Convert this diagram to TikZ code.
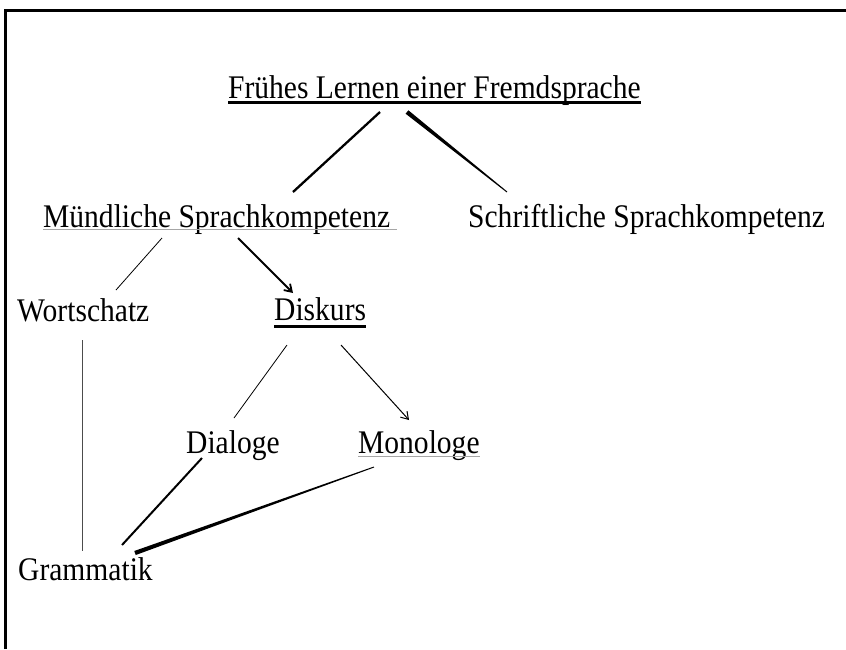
\documentclass[tikz,border=0pt]{standalone}
\usepackage{fontspec}
\setmainfont{Liberation Serif}[FakeStretch=0.895]
\usetikzlibrary{arrows.meta}
\begin{document}
\begin{tikzpicture}[x=1pt,y=-1pt,
  lbl/.style={inner sep=0pt, anchor=base west, font=\fontsize{33}{36}\selectfont},
  thinln/.style={line width=0.8pt},
  midln/.style={line width=2pt},
  ulthick/.style={line width=3pt},
  ulthin/.style={line width=1pt, gray!70},
  arr/.style={-{Straight Barb[length=7pt,width=9pt]}}]
\useasboundingbox (0,0) rectangle (846,649);
% frame
\draw[line width=3pt] (5,649) -- (5,10) -- (846,10);
% labels
\node[lbl] (F) at (228,98) {Frühes Lernen einer Fremdsprache};
\node[lbl] (M) at (43,227) {Mündliche Sprachkompetenz};
\node[lbl] (S) at (468,227) {Schriftliche Sprachkompetenz};
\node[lbl] (W) at (17,321) {Wortschatz};
\node[lbl] (D) at (274,320) {Diskurs};
\node[lbl] (Dl) at (186,453) {Dialoge};
\node[lbl] (Mo) at (358,453) {Monologe};
\node[lbl] (G) at (18,580) {Grammatik};
% underlines
\draw[ulthick] ([yshift=-4.5pt]F.base west) -- ([yshift=-4.5pt]F.base east);
\draw[ulthin] ([yshift=-2.5pt]M.base west) -- ++(354,0);
\draw[ulthick] ([yshift=-6pt]D.base west) -- ([yshift=-6pt]D.base east);
\draw[ulthin] ([yshift=-3pt]Mo.base west) -- ([yshift=-3pt]Mo.base east);
% connector end points
\coordinate (fm1) at (380,112); \coordinate (fm2) at (293,192);
\coordinate (fs1) at (407,112); \coordinate (fs2) at (507,192);
\coordinate (mw1) at (162,238); \coordinate (mw2) at (116,290);
\coordinate (md1) at (238,238); \coordinate (md2) at (293,293);
\coordinate (dd1) at (287,345); \coordinate (dd2) at (234,418);
\coordinate (dm1) at (341,345); \coordinate (dm2) at (409,420);
\coordinate (wg1) at (82,340);  \coordinate (wg2) at (82,551);
\coordinate (lg1) at (202,458); \coordinate (lg2) at (122,545);
\coordinate (og1) at (374,467); \coordinate (og2) at (135,553);
% connectors
\draw[line width=2.3pt] (fm1) -- (fm2);
\fill ([shift={(-1.4,1.7)}]fs1) -- ([shift={(1.4,-1.7)}]fs1) -- ([shift={(0.3,-0.4)}]fs2) -- ([shift={(-0.3,0.4)}]fs2) -- cycle;
\draw[thinln] (mw1) -- (mw2);
\draw[line width=1.8pt, arr] (md1) -- (md2);
\draw[thinln] (dd1) -- (dd2);
\draw[line width=1pt, arr] (dm1) -- (dm2);
\draw[thinln, black!70] (wg1) -- (wg2);
\draw[midln] (lg1) -- (lg2);
\fill ([shift={(0.2,0.45)}]og1) -- ([shift={(-0.2,-0.45)}]og1) -- ([shift={(-0.75,-2)}]og2) -- ([shift={(0.75,2)}]og2) -- cycle;
\end{tikzpicture}
\end{document}
